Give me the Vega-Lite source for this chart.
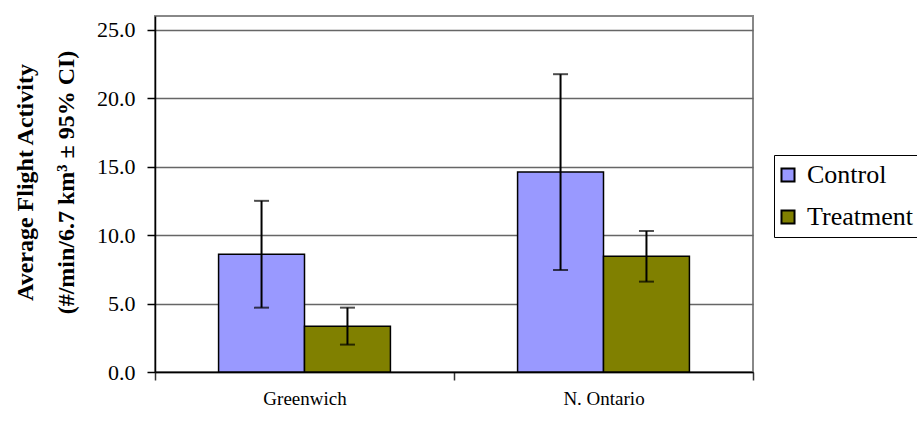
{
  "$schema": "https://vega.github.io/schema/vega-lite/v6.json",
  "width": 598,
  "height": 356,
  "autosize": {"type": "none"},
  "padding": {"left": 155, "top": 16, "right": 164, "bottom": 53},
  "background": "white",
  "config": {
    "font": "Liberation Serif",
    "axis": {"labelFont": "Liberation Serif", "titleFont": "Liberation Serif"},
    "legend": {"labelFont": "Liberation Serif"},
    "view": {"stroke": "#888888", "strokeWidth": 2}
  },
  "data": {
    "values": [
      {"site": "Greenwich", "group": "Control", "mean": 8.6, "lo": 4.7, "hi": 12.5},
      {"site": "Greenwich", "group": "Treatment", "mean": 3.35, "lo": 2.0, "hi": 4.7},
      {"site": "N. Ontario", "group": "Control", "mean": 14.6, "lo": 7.45, "hi": 21.75},
      {"site": "N. Ontario", "group": "Treatment", "mean": 8.45, "lo": 6.6, "hi": 10.3}
    ]
  },
  "encoding": {
    "x": {
      "field": "site",
      "type": "nominal",
      "sort": ["Greenwich", "N. Ontario"],
      "scale": {"paddingInner": 0, "paddingOuter": 0},
      "axis": {
        "title": null,
        "labelAngle": 0,
        "labelFontSize": 19,
        "labelColor": "black",
        "labelPadding": 9,
        "tickBand": "extent",
        "tickSize": 8,
        "tickColor": "#333333",
        "tickWidth": 1.5,
        "domainColor": "black",
        "domainWidth": 1.5,
        "grid": false
      }
    },
    "xOffset": {
      "field": "group",
      "sort": ["Control", "Treatment"],
      "scale": {"paddingOuter": 0.74, "paddingInner": 0}
    }
  },
  "layer": [
    {
      "mark": {"type": "bar", "stroke": "black", "strokeWidth": 1.5},
      "encoding": {
        "y": {
          "field": "mean",
          "type": "quantitative",
          "scale": {"domain": [0, 25]},
          "axis": {
            "values": [0, 5, 10, 15, 20, 25],
            "format": ".1f",
            "labelFontSize": 22,
            "labelColor": "black",
            "labelPadding": 12,
            "tickSize": 8,
            "tickColor": "black",
            "tickWidth": 1.5,
            "domainColor": "black",
            "domainWidth": 1.5,
            "gridColor": "#666666",
            "gridWidth": 1.5,
            "title": ["Average Flight Activity", "(#/min/6.7 km³ ± 95% CI)"],
            "titleFontSize": 24,
            "titleFontWeight": "bold",
            "titleColor": "black",
            "titleAngle": -90,
            "titleX": -123,
            "titleY": 166,
            "titleAlign": "center",
            "titleBaseline": "alphabetic",
            "titleLineHeight": 41
          }
        },
        "color": {
          "field": "group",
          "type": "nominal",
          "scale": {"domain": ["Control", "Treatment"], "range": ["#9999FF", "#808000"]},
          "legend": {
            "title": null,
            "orient": "none",
            "legendX": 619,
            "legendY": 139,
            "strokeColor": "black",
            "fillColor": "white",
            "padding": 7,
            "labelFontSize": 26,
            "labelColor": "black",
            "labelOffset": 6,
            "symbolType": "square",
            "symbolSize": 170,
            "symbolOffset": -6,
            "symbolStrokeColor": "black",
            "symbolStrokeWidth": 2,
            "rowPadding": 16
          }
        }
      }
    },
    {
      "mark": {"type": "rule", "color": "black", "strokeWidth": 2},
      "encoding": {
        "y": {"field": "lo", "type": "quantitative"},
        "y2": {"field": "hi"}
      }
    },
    {
      "mark": {"type": "tick", "color": "black", "thickness": 2, "size": 15},
      "encoding": {"y": {"field": "lo", "type": "quantitative"}}
    },
    {
      "mark": {"type": "tick", "color": "black", "thickness": 2, "size": 15},
      "encoding": {"y": {"field": "hi", "type": "quantitative"}}
    }
  ]
}
